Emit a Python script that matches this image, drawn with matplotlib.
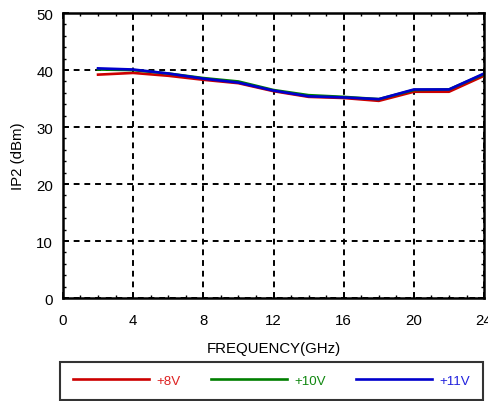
import matplotlib
matplotlib.use("Agg")
import matplotlib.pyplot as plt
from matplotlib.ticker import MultipleLocator

plt.rcParams['font.family'] = ['Liberation Sans', 'DejaVu Sans']

freq = [2, 4, 6, 8, 10, 12, 14, 16, 18, 20, 22, 24]
ip2_8v = [39.2, 39.5, 39.0, 38.3, 37.7, 36.3, 35.3, 35.1, 34.6, 36.2, 36.2, 39.0]
ip2_10v = [40.1, 40.0, 39.4, 38.6, 38.0, 36.5, 35.6, 35.3, 34.9, 36.5, 36.6, 39.3]
ip2_11v = [40.3, 40.1, 39.4, 38.5, 37.8, 36.4, 35.4, 35.2, 34.9, 36.6, 36.6, 39.4]
labels = ['+8V', '+10V', '+11V']
colors = ['#cc0000', '#007f00', '#0000cc']
text_colors = ['#dd2222', '#118811', '#2222dd']

fig = plt.figure(figsize=(4.88, 4.02), dpi=100)
ax = fig.add_axes([0.129, 0.256, 0.863, 0.709])

for ys, lab, c in zip([ip2_8v, ip2_10v, ip2_11v], labels, colors):
    ax.plot(freq, ys, color=c, lw=1.9, label=lab)

ax.set_xlim(0, 24)
ax.set_ylim(0, 50)
ax.xaxis.set_major_locator(MultipleLocator(4))
ax.xaxis.set_minor_locator(MultipleLocator(1))
ax.yaxis.set_major_locator(MultipleLocator(10))
ax.yaxis.set_minor_locator(MultipleLocator(2))
ax.tick_params(which='both', direction='in', top=True, right=True, labelsize=10.8, colors='black')
ax.tick_params(which='major', length=4, width=1.2)
ax.tick_params(axis='x', which='major', pad=11)
ax.tick_params(axis='y', which='major', pad=7)
ax.tick_params(which='minor', length=2.5, width=1.0)
for s in ax.spines.values():
    s.set_linewidth(1.8)
ax.grid(True, which='major', color='black', linestyle=(0, (3, 2.5)), linewidth=1.4)
ax.set_xlabel('FREQUENCY(GHz)', fontsize=10.8, labelpad=10)
ax.set_ylabel('IP2 (dBm)', fontsize=10.8, labelpad=8)

leg = fig.legend(loc='lower left', bbox_to_anchor=(0.123, 0.003, 0.867, 0.094),
                 mode='expand', ncol=3, frameon=True, fancybox=False,
                 handlelength=5.7, handletextpad=0.6, fontsize=9.6, borderaxespad=0,
                 borderpad=0.95)
leg.get_frame().set_edgecolor('black')
leg.get_frame().set_linewidth(1.5)
for t, c in zip(leg.get_texts(), text_colors):
    t.set_color(c)

fig.savefig('out.png', dpi=100)
